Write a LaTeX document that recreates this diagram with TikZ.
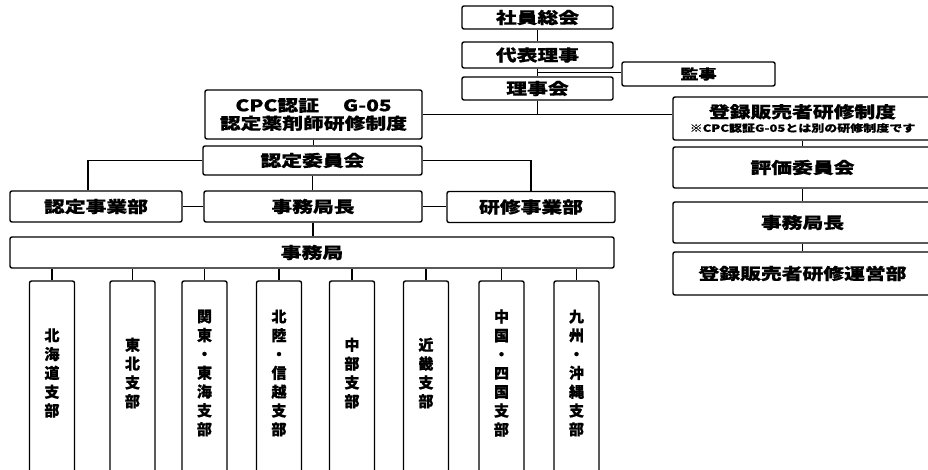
\documentclass[tikz,border=0pt]{standalone}
\usepackage{fontspec}
\usetikzlibrary{calc}
\newfontfamily\jp[FakeStretch=1.3,FakeBold=0.6]{Noto Sans CJK JP}
\newfontfamily\jpv[FakeBold=0.6]{Noto Sans CJK JP}
\begin{document}
\begin{tikzpicture}[x=1pt,y=-1pt,
  box/.style={draw, line width=1.4pt, rounded corners=2pt, inner sep=0pt, align=center,
    font=\jp\bfseries\fontsize{16}{18}\selectfont},
  vbox/.style={draw, line width=1.4pt, rounded corners=2pt, inner sep=0pt,
    minimum width=45pt, minimum height=200pt},
  vtext/.style={inner sep=0pt, align=center, font=\jpv\bfseries\fontsize{15}{18.8}\selectfont},
  conn/.style={line width=1.4pt}]
\useasboundingbox (0,0) rectangle (928,470);
\clip (0,0) rectangle (928,470);
% top
\node[box, minimum width=151pt, minimum height=23pt] (shain) at (537.5,17.5) {社員総会};
\node[box, minimum width=151pt, minimum height=26pt] (daihyo) at (537.5,55) {代表理事};
\node[box, minimum width=151pt, minimum height=23pt] (riji) at (537.5,88.5) {理事会};
\node[box, minimum width=153pt, minimum height=24pt, font=\jp\bfseries\fontsize{14}{16}\selectfont] (kanji) at (698.5,74) {監事};
% left column
\node[box, minimum width=217pt, minimum height=49pt] (cpc) at (313.5,114.5) {CPC認証\hspace{24pt}G-05\\認定薬剤師研修制度};
\node[box, minimum width=219pt, minimum height=29pt] (niniin) at (312.5,160.5) {認定委員会};
\node[box, minimum width=172pt, minimum height=31pt] (njigyo) at (96,206.5) {認定事業部};
\node[box, minimum width=218pt, minimum height=31pt] (chou) at (313,206.5) {事務局長};
\node[box, minimum width=168pt, minimum height=31pt] (kjigyo) at (531,207) {研修事業部};
\node[box, minimum width=604pt, minimum height=31pt] (jimu) at (312,252.5) {事務局};
% right column
\node[box, minimum width=259pt, minimum height=43pt] (touroku) at (802.5,118.5) {登録販売者研修制度\\[-4pt]{\fontsize{10}{11}\selectfont ※CPC認証G-05とは別の研修制度です}};
\node[box, minimum width=259pt, minimum height=41pt] (hyouka) at (802.5,167.5) {評価委員会};
\node[box, minimum width=259pt, minimum height=41pt] (chou2) at (802.5,222.5) {事務局長};
\node[box, minimum width=259pt, minimum height=43pt] (unei) at (802.5,273.5) {登録販売者研修運営部};
% branches
\node[vbox] (b1) at (52,381) {};
\node[vbox] (b2) at (132.5,381) {};
\node[vbox] (b3) at (204.5,381) {};
\node[vbox] (b4) at (279,381) {};
\node[vbox] (b5) at (352,381) {};
\node[vbox] (b6) at (426,381) {};
\node[vbox] (b7) at (501.5,381) {};
\node[vbox] (b8) at (576.5,381) {};
\node[vtext] (t1) at (52,373) {北\\海\\道\\支\\部};
\node[vtext] (t2) at (132.5,373) {東\\北\\支\\部};
\node[vtext] (t3) at (204.5,373) {関\\東\\・\\東\\海\\支\\部};
\node[vtext] (t4) at (279,373) {北\\陸\\・\\信\\越\\支\\部};
\node[vtext] (t5) at (352,373) {中\\部\\支\\部};
\node[vtext] (t6) at (426,373) {近\\畿\\支\\部};
\node[vtext] (t7) at (501.5,373) {中\\国\\・\\四\\国\\支\\部};
\node[vtext] (t8) at (576.5,373) {九\\州\\・\\沖\\縄\\支\\部};
% connectors
\draw[conn] (shain.south) -- (daihyo.north);
\draw[conn] (daihyo.south) -- (riji.north);
\coordinate (kj) at ($(daihyo.south)!0.5!(riji.north)$);
\draw[conn] (kj) -- (kj -| kanji.west);
\draw[conn] (riji.south) -- (riji.south |- cpc.east);
\draw[conn] (cpc.east) -- (cpc.east -| touroku.west);
\draw[conn] (cpc.south) -- (cpc.south |- niniin.north);
\draw[conn] (niniin.south) -- (niniin.south |- chou.north);
\draw[conn] (niniin.west) -| ([xshift=-8pt]njigyo.north);
\draw[conn] (niniin.east) -| (kjigyo.north);
\draw[conn] (chou.west) -- (njigyo.east);
\draw[conn] (chou.east) -- (chou.east -| kjigyo.west);
\draw[conn] (chou.south) -- (chou.south |- jimu.north);
\draw[conn] (touroku.south) -- (hyouka.north);
\draw[conn] (hyouka.south) -- (chou2.north);
\draw[conn] (chou2.south) -- (unei.north);
\foreach \b in {b1,b2,b3,b4,b5,b6,b7,b8}
  \draw[conn] (jimu.south -| \b.north) -- (\b.north);
\end{tikzpicture}
\end{document}
